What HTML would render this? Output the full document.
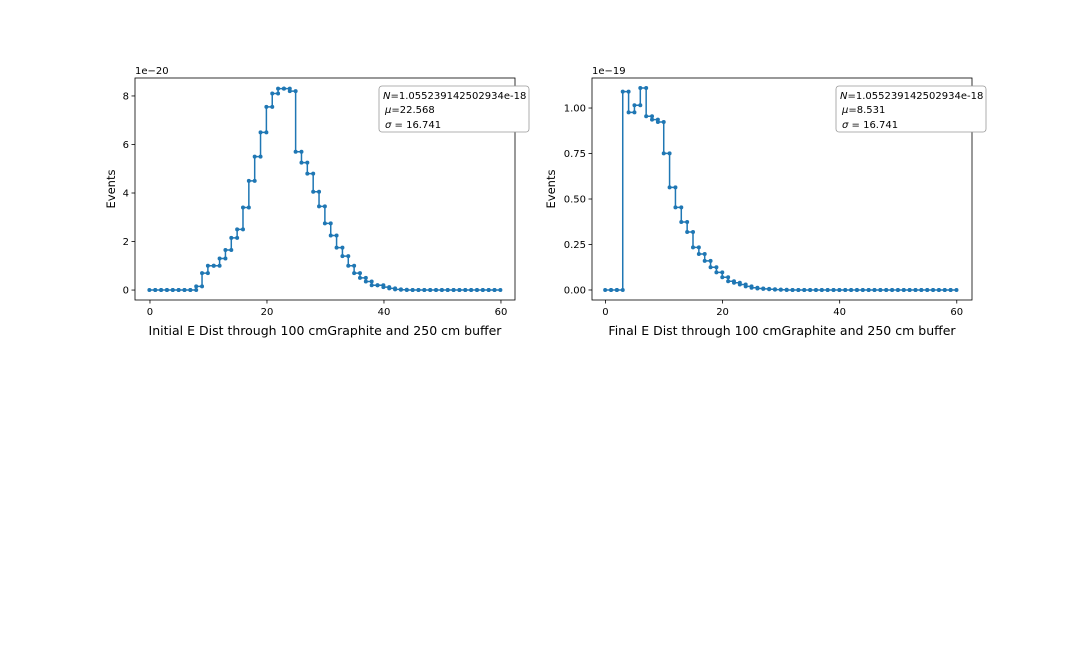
<!DOCTYPE html>
<html><head><meta charset="utf-8"><style>
body{margin:0;background:#fff;}
svg text{font-family:"DejaVu Sans","Liberation Sans",sans-serif;fill:#000;}
</style></head><body>
<svg id="fig" width="1080" height="648" viewBox="0 0 1080 648" xmlns="http://www.w3.org/2000/svg"></svg>
<script>
// Left chart data (x1e-20), 1-unit bins
const leftValues = [0,0,0,0,0,0,0,0,0.15,0.7,1.0,1.0,1.3,1.65,2.15,2.5,3.4,4.5,5.5,6.5,7.55,8.1,8.3,8.3,8.2,5.7,5.25,4.8,4.05,3.45,2.75,2.25,1.75,1.4,1.0,0.7,0.5,0.35,0.2,0.2,0.12,0.07,0.03,0.01,0,0,0,0,0,0,0,0,0,0,0,0,0,0,0,0];
const leftBinStart = -0.1;
const leftXTicks = [0,20,40,60];
const leftYTicks = [0,2,4,6,8];
const leftYTickLabels = ["0","2","4","6","8"];
// Right chart data (x1e-19)
const rightValues = [0,0,0,1.09,0.976,1.015,1.11,0.955,0.936,0.923,0.751,0.564,0.454,0.374,0.319,0.234,0.198,0.16,0.125,0.097,0.07,0.048,0.04,0.03,0.02,0.012,0.008,0.006,0.004,0.002,0.001,0,0,0,0,0,0,0,0,0,0,0,0,0,0,0,0,0,0,0,0,0,0,0,0,0,0,0,0,0];
const rightBinStart = -0.05;
const rightXTicks = [0,20,40,60];
const rightYTicks = [0,0.25,0.5,0.75,1.0];
const rightYTickLabels = ["0.00","0.25","0.50","0.75","1.00"];
const binWidth = 1;

const NS="http://www.w3.org/2000/svg";
const svg=document.getElementById('fig');
function mk(tag,attrs,parent){const e=document.createElementNS(NS,tag);for(const k in attrs)e.setAttribute(k,attrs[k]);(parent||svg).appendChild(e);return e;}

function drawChart(o){
  const g=mk('g',{});
  
  
  const sx=v=>o.L+(v-o.xmin)/(o.xmax-o.xmin)*(o.R-o.L);
  const sy=v=>o.B-(v-o.ymin)/(o.ymax-o.ymin)*(o.B-o.T);
  let pts=[];
  o.values.forEach((v,i)=>{const a=o.start+i*binWidth;pts.push([sx(a),sy(v)]);pts.push([sx(a+binWidth),sy(v)]);});
  const line=mk('polyline',{points:pts.map(p=>p[0].toFixed(2)+','+p[1].toFixed(2)).join(' '),fill:'none',stroke:'#1f77b4','stroke-width':1.5,'stroke-linejoin':'round'},g);
  
  
  pts.forEach(p=>{const c=mk('circle',{cx:p[0].toFixed(2),cy:p[1].toFixed(2),r:2,fill:'#1f77b4'},g);
    
    });
  const frame=mk('rect',{x:o.L,y:o.T,width:o.R-o.L,height:o.B-o.T,fill:'none',stroke:'#000','stroke-width':0.8},g);
  
  
  o.xticks.forEach(t=>{const x=sx(t);mk('line',{x1:x,x2:x,y1:o.B,y2:o.B+3.5,stroke:'#000','stroke-width':0.8},g);
    const tx=mk('text',{x:x,y:o.B+15,'font-size':10,'text-anchor':'middle'},g);tx.textContent=t;
    
    });
  o.yticks.forEach((t,i)=>{const y=sy(t);mk('line',{x1:o.L-3.5,x2:o.L,y1:y,y2:y,stroke:'#000','stroke-width':0.8},g);
    const tx=mk('text',{x:o.L-6,y:y+3.5,'font-size':10,'text-anchor':'end'},g);tx.textContent=o.ylabels[i];
    
    });
  const off=mk('text',{x:o.L,y:o.T-4,'font-size':10},g);off.textContent=o.offset;
  
  
  const yl=mk('text',{x:0,y:0,'font-size':11.5,'text-anchor':'middle',transform:`translate(${o.ylx},${(o.T+o.B)/2}) rotate(-90)`},g);yl.textContent='Events';
  
  
  const xl=mk('text',{x:(o.L+o.R)/2,y:o.B+35,'font-size':12.5,'text-anchor':'middle'},g);xl.textContent=o.xtitle;
  
  
  const lg=mk('g',{},g);
  
  
  mk('rect',{x:o.lx,y:86,width:150,height:46,rx:3,fill:'#fff',stroke:'#999','stroke-width':0.8},lg);
  const l1=mk('text',{x:o.lx+4,y:99,'font-size':10},lg);
  l1.innerHTML='<tspan font-style="italic">N</tspan>=1.055239142502934e-18';
  const l2=mk('text',{x:o.lx+6,y:113,'font-size':10},lg);
  l2.innerHTML='<tspan font-style="italic">μ</tspan>='+o.mu;
  const l3=mk('text',{x:o.lx+6,y:128,'font-size':10},lg);
  l3.innerHTML='<tspan font-style="italic">σ</tspan> = 16.741';
}
drawChart({name:'initial-energy-chart',L:135,R:515,T:78,B:300,xmin:-2.56,xmax:62.4,ymin:-0.41,ymax:8.74,values:leftValues,start:leftBinStart,xticks:leftXTicks,yticks:leftYTicks,ylabels:leftYTickLabels,offset:'1e−20',xtitle:'Initial E Dist through 100 cmGraphite and 250 cm buffer',lx:379,mu:'22.568',ylx:115});
drawChart({name:'final-energy-chart',L:592,R:972,T:78,B:300,xmin:-2.3,xmax:62.6,ymin:-0.055,ymax:1.165,values:rightValues,start:rightBinStart,xticks:rightXTicks,yticks:rightYTicks,ylabels:rightYTickLabels,offset:'1e−19',xtitle:'Final E Dist through 100 cmGraphite and 250 cm buffer',lx:836,mu:'8.531',ylx:555});
</script>
</body></html>
